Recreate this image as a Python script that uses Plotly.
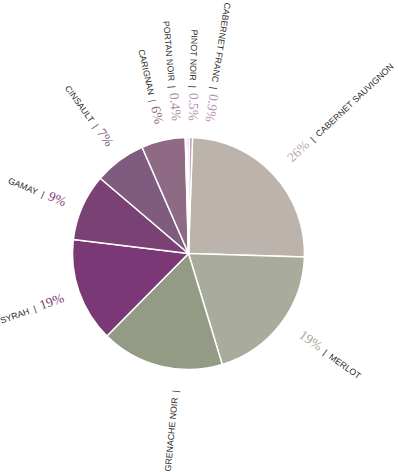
import math
import plotly.graph_objects as go

# ---------------- data ----------------
varieties = ["CABERNET SAUVIGNON", "MERLOT", "GRENACHE NOIR", "SYRAH", "GAMAY",
             "CINSAULT", "CARIGNAN", "PORTAN NOIR", "PINOT NOIR", "CABERNET FRANC"]
# slice sizes as drawn (share of the pie, %)
shares = [24.9, 19.8, 17.1, 14.5, 9.3, 7.2, 6.1, 0.25, 0.3, 0.45]
# percentages as printed beside the slices
pct_labels = ["26%", "19%", "", "19%", "9%", "7%", "6%", "0.4%", "0.5%", "0.9%"]

# ---------------- style ----------------
slice_colors = ["#bcb3ad", "#a9ac9a", "#939b84", "#7a3877", "#7a4274",
                "#805b80", "#8f6a84", "#a57f9e", "#b78fb0", "#c4a0bf"]
pct_colors = ["#b3aaa5", "#a6a899", "#8e9680", "#7a3877", "#7a3a78",
              "#8a5a8c", "#8d6a88", "#a98aa5", "#b08fb0", "#b995b6"]
label_nudge = [0, -2, -8.4, 0, -1, 1, 0, -4, 2, 8]   # degrees, label placement tweak

W, H = 398, 472
CX, CY, R = 188.5, 253.5, 116.0      # pie centre / radius in px
R_TEXT_IN = 133.0                     # inner end of labels reading inward
R_TEXT_OUT = 138.0                    # inner end of labels reading outward
START = 2.0                           # first slice starts 2 deg clockwise from 12 o'clock
NAME_PX = 8.8
PCT_PX = 13.5
NAME_FONT = "Liberation Sans"
PCT_FONT = "Liberation Serif"

sans_w = {"A": .667, "B": .667, "C": .722, "D": .722, "E": .667, "F": .611, "G": .778,
          "H": .722, "I": .278, "J": .5, "K": .667, "L": .556, "M": .833, "N": .722,
          "O": .778, "P": .667, "Q": .778, "R": .722, "S": .667, "T": .611, "U": .722,
          "V": .667, "W": .944, "X": .667, "Y": .667, "Z": .611, " ": .278, "|": .26,
          "\u00a0": .278}
serif_w = {"%": .833, ".": .25}


def width(txt, table, px, default=.5):
    return sum(table.get(c, default) for c in txt) * px


fig = go.Figure()
fig.add_trace(go.Pie(
    labels=varieties, values=shares, sort=False, direction="clockwise",
    rotation=START, textinfo="none", hoverinfo="label+percent",
    marker=dict(colors=slice_colors, line=dict(color="white", width=1.5)),
    domain=dict(x=[(CX - R) / W, (CX + R) / W],
                y=[(H - CY - R) / H, (H - CY + R) / H]),
    showlegend=False,
))

total = sum(shares)
acc = 0.0
annotations = []
SEP = "\u00a0\u00a0|\u00a0\u00a0"
for i, (name, val) in enumerate(zip(varieties, shares)):
    mid = START + (acc + val / 2) / total * 360.0
    acc += val
    theta = (mid + label_nudge[i]) % 360
    outward = 15 < theta < 180
    pct = pct_labels[i]
    pct_span = (f"<span style=\"font-family:'{PCT_FONT}';font-size:{PCT_PX}px;"
                f"color:{pct_colors[i]}\">{pct}</span>") if pct else ""
    name_span = (f"<span style=\"font-family:'{NAME_FONT}';font-size:{NAME_PX}px;"
                 f"color:#2a2a2a\">")
    if outward:
        text = pct_span + name_span + SEP + name + "</span>"
        angle = theta - 90
        r0 = R_TEXT_OUT
    else:
        text = name_span + name + SEP + "</span>" + pct_span
        angle = theta - 270
        r0 = R_TEXT_IN
    angle = (angle + 180) % 360 - 180
    L = width(name + SEP, sans_w, NAME_PX) + width(pct, serif_w, PCT_PX)
    rc = r0 + L / 2
    t = math.radians(theta)
    x = CX + rc * math.sin(t)
    y = CY - rc * math.cos(t)
    annotations.append(dict(
        x=x / W, y=(H - y) / H, xref="paper", yref="paper",
        text=text, showarrow=False, textangle=angle,
        xanchor="center", yanchor="middle",
        font=dict(family=NAME_FONT, size=NAME_PX, color="#2a2a2a"),
    ))

fig.update_layout(
    width=W, height=H, margin=dict(l=0, r=0, t=0, b=0),
    paper_bgcolor="white", plot_bgcolor="white",
    annotations=annotations,
)
fig.write_html("out.html", config={"displayModeBar": False},
               post_script="document.body.style.margin='0';")
